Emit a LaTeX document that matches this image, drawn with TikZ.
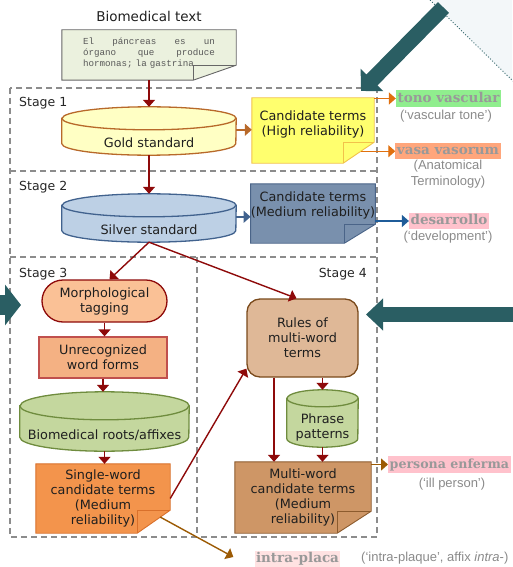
\documentclass[tikz,border=0pt]{standalone}
\usepackage{fontspec}
\setmainfont{DejaVu Sans}
\newfontfamily\glossfont{Liberation Sans}
\newfontfamily\termfont{DejaVu Serif}
\newfontfamily\codefont{Liberation Mono}
\usepackage{tikz}
\usetikzlibrary{arrows.meta, positioning, calc, backgrounds}
\usepackage{xcolor}

\definecolor{trnote}{HTML}{EBF1DE}
\definecolor{trgold}{HTML}{FFFFC4}
\definecolor{trgoldline}{HTML}{B8692A}
\definecolor{tryellow}{HTML}{FFFF6E}
\definecolor{tryellowline}{HTML}{F2C24A}
\definecolor{trsilver}{HTML}{BDD0E5}
\definecolor{trsilverline}{HTML}{41628E}
\definecolor{trslate}{HTML}{7990AD}
\definecolor{trslateline}{HTML}{4A6488}
\definecolor{trpeach}{HTML}{FAC196}
\definecolor{trred}{HTML}{8E0A0A}
\definecolor{trapricot}{HTML}{F4B183}
\definecolor{trapricotline}{HTML}{C0504D}
\definecolor{trgreen}{HTML}{C4D79E}
\definecolor{trgreenline}{HTML}{6F8C3E}
\definecolor{trorange}{HTML}{F3944C}
\definecolor{trorangeline}{HTML}{D9702B}
\definecolor{trtan}{HTML}{DFB897}
\definecolor{trtanline}{HTML}{7A4A1C}
\definecolor{trbrown}{HTML}{CE9666}
\definecolor{trbrownline}{HTML}{8C5B2E}
\definecolor{trarrorange}{HTML}{E0700F}
\definecolor{trarrblue}{HTML}{1F5C99}
\definecolor{trarrbrown}{HTML}{9C5B05}
\definecolor{trteal}{HTML}{2A5E63}
\definecolor{trdash}{HTML}{8C8C8C}
\definecolor{trgloss}{HTML}{8A8A8A}
\definecolor{trterm}{HTML}{999999}
\definecolor{trlime}{HTML}{90EE8E}
\definecolor{trsalmon}{HTML}{FFA67C}
\definecolor{trpink}{HTML}{FFC2CC}
\definecolor{trblush}{HTML}{FFE2E2}
\definecolor{trsky}{HTML}{F3F7F9}

% sheet with folded corner round node #1 (fold #2 wide, #3 high)
\newcommand\dogear[3]{(#1.north west) -- (#1.north east) -- ([yshift=#3]#1.south east)
  -- ([xshift=-#2]#1.south east) -- (#1.south west) -- cycle}
\newcommand\dogfold[3]{([yshift=#3]#1.south east) -- ([xshift=-#2,yshift=#3]#1.south east)
  -- ([xshift=-#2]#1.south east)}
% drum round the front face #1 (radii #2, #3)
\newcommand\cylbody[3]{([yshift=#3]#1.north west) -- ([yshift=#3]#1.south west)
  arc[start angle=180, end angle=360, x radius=#2, y radius=#3]
  -- ([yshift=#3]#1.north east)
  arc[start angle=0, end angle=180, x radius=#2, y radius=#3] -- cycle}
\newcommand\cyllid[3]{([yshift=#3]#1.north west)
  arc[start angle=180, end angle=360, x radius=#2, y radius=#3]}

\begin{document}
\begin{tikzpicture}[x=1pt, y=-1pt,
  txt/.style={font=\fontsize{12.8}{15}\selectfont, text=black!88, align=center, inner sep=1pt},
  sheet/.style={txt, inner sep=0pt},
  face/.style={txt, inner sep=0pt},
  proc/.style={txt, draw, line width=1.3pt},
  dbline/.style={line width=1.3pt},
  sheetline/.style={line width=0.9pt},
  flow/.style={draw=#1, line width=1.4pt, -{Triangle[length=7pt, width=12pt]}},
  flow/.default=trred,
  term/.style={font=\termfont\bfseries\fontsize{13.5}{15}\selectfont, text=trterm, fill=#1,
               inner xsep=1.5pt, inner ysep=1.5pt, text height=10.5pt, text depth=3pt},
  gloss/.style={font=\glossfont\fontsize{13}{16}\selectfont, text=trgloss, align=center, inner sep=1pt},
  stagelbl/.style={font=\fontsize{12.5}{15}\selectfont, text=black!85, inner sep=1pt},
  stageline/.style={draw=trdash, line width=1.3pt, dash pattern=on 6pt off 4pt},
  bigarrow/.style={draw=trteal},
]
  \useasboundingbox (0,0) rectangle (512,567);

  % source text
  \node[txt, font=\fontsize{13.5}{16}\selectfont] (title) at (149,16) {Biomedical text};
  \node[sheet, minimum width=174pt, minimum height=50pt, text width=132pt, align=left,
        font=\codefont\fontsize{9.2}{11}\selectfont, text=black!65, text depth=28pt] (src) at (149,55)
    {El\hfill páncreas\hfill es\hfill un\\órgano\hfill que\hfill produce\\hormonas; la gastrina};

  % stages
  \node[stagelbl, anchor=west] (s1) at (18,103) {Stage 1};
  \node[stagelbl, anchor=west] (s2) at (18,187) {Stage 2};
  \node[stagelbl, anchor=west] (s3) at (18,274) {Stage 3};
  \node[stagelbl, anchor=east] (s4) at (368,274) {Stage 4};

  % stage 1 and 2
  \node[face, minimum width=174pt, minimum height=25pt] (gold) at (149,142.5) {Gold standard};
  \node[face, minimum width=174pt, minimum height=25pt] (silver) at (149,229.5) {Silver standard};
  \node[sheet, minimum width=122pt, minimum height=65pt, text depth=15.5pt] (high) at (313,130.5)
    {Candidate terms\\(High reliability)};
  \node[sheet, minimum width=122pt, minimum height=59pt, text depth=18.7pt] (medium) at (313,213.5)
    {Candidate terms\\(Medium reliability)};

  % stage 3
  \node[proc, fill=trpeach, draw=trred, rounded corners=21pt, minimum width=125pt,
        minimum height=42pt] (morph) at (104.5,301) {Morphological\\tagging};
  \node[proc, fill=trapricot, draw=trapricotline, minimum width=128pt,
        minimum height=41pt] (unrec) at (103,357.5) {Unrecognized\\word forms};
  \node[face, minimum width=169pt, minimum height=31pt] (roots) at (104.5,435.5) {Biomedical roots/affixes};
  \node[sheet, minimum width=134pt, minimum height=69pt] (single) at (103,498.5)
    {Single-word\\candidate terms\\(Medium\\reliability)};

  % stage 4
  \node[proc, fill=trtan, draw=trtanline, rounded corners=13pt, minimum width=111pt,
        minimum height=78pt] (rules) at (302.5,338) {Rules of\\multi-word\\terms};
  \node[face, minimum width=71pt, minimum height=40pt] (phrase) at (322.5,427) {Phrase\\patterns};
  \node[sheet, minimum width=136pt, minimum height=71pt] (multi) at (303,497.5)
    {Multi-word\\candidate terms\\(Medium\\reliability)};

  % extracted terms
  \node[term=trlime] (tono) at (448.5,98.5) {tono vascular};
  \node[gloss] (tonogl) at (446,116) {(‘vascular tone’)};
  \node[term=trsalmon] (vasa) at (448,151) {vasa vasorum};
  \node[gloss] (vasagl) at (448,174) {(Anatomical\\Terminology)};
  \node[term=trpink] (desarr) at (449,221) {desarrollo};
  \node[gloss] (desarrgl) at (448,237) {(‘development’)};
  \node[term=trpink, anchor=west, font=\termfont\bfseries\fontsize{12.6}{15}\selectfont]
    (persona) at (388,464.5) {persona enferma};
  \node[gloss] (personagl) at (452,484) {(‘ill person’)};
  \node[term=trblush] (intra) at (297.5,559) {intra-placa};
  \node[gloss, anchor=west] (intragl) at (360,558) {(‘intra-plaque’, affix \textit{intra}-)};

  \coordinate (goldtop) at ([yshift=23pt]gold.north);
  \coordinate (silvertop) at ([yshift=23pt]silver.north);
  \coordinate (rootstop) at ([yshift=28pt]roots.north);
  \coordinate (phrasetop) at ([yshift=17pt]phrase.north);
  \coordinate (rulesfoot) at ([xshift=-28.5pt]rules.south);
  \coordinate (highfold) at ($([yshift=21pt]high.south east)!0.43!([xshift=-31pt]high.south east)$);
  \coordinate (singlefold) at ($([yshift=23pt]single.south east)!0.3!([xshift=-33pt]single.south east)$);
  \coordinate (intratip) at ([xshift=-21pt,yshift=2pt]intra.west);

  % shapes behind the texts
  \begin{scope}[on background layer]
    \fill[trsky] (430,0) -- (512,0) -- (512,81) -- cycle;
    \draw[stageline] (10,88) rectangle (377,537);
    \draw[stageline] (10,171) -- (377,171) (10,257) -- (377,257) (197,257) -- (197,537);

    \filldraw[sheetline, fill=trnote, draw=black!60] \dogear{src}{43pt}{15pt};
    \draw[sheetline, draw=black!60] \dogfold{src}{43pt}{15pt};
    \filldraw[sheetline, fill=tryellow, draw=tryellowline] \dogear{high}{31pt}{21pt};
    \draw[sheetline, draw=tryellowline] \dogfold{high}{31pt}{21pt};
    \filldraw[sheetline, fill=trslate, draw=trslateline] \dogear{medium}{31pt}{19pt};
    \draw[sheetline, draw=trslateline] \dogfold{medium}{31pt}{19pt};
    \filldraw[sheetline, fill=trorange, draw=trorangeline] \dogear{single}{33pt}{23pt};
    \draw[sheetline, draw=trorangeline] \dogfold{single}{33pt}{23pt};
    \filldraw[sheetline, fill=trbrown, draw=trbrownline] \dogear{multi}{34pt}{22pt};
    \draw[sheetline, draw=trbrownline] \dogfold{multi}{34pt}{22pt};

    \filldraw[dbline, fill=trgold, draw=trgoldline] \cylbody{gold}{87pt}{11.5pt};
    \draw[dbline, draw=trgoldline] \cyllid{gold}{87pt}{11.5pt};
    \filldraw[dbline, fill=trsilver, draw=trsilverline] \cylbody{silver}{87pt}{11.5pt};
    \draw[dbline, draw=trsilverline] \cyllid{silver}{87pt}{11.5pt};
    \filldraw[dbline, fill=trgreen, draw=trgreenline] \cylbody{roots}{84.5pt}{14pt};
    \draw[dbline, draw=trgreenline] \cyllid{roots}{84.5pt}{14pt};
    \filldraw[dbline, fill=trgreen, draw=trgreenline] \cylbody{phrase}{35.5pt}{8.5pt};
    \draw[dbline, draw=trgreenline] \cyllid{phrase}{35.5pt}{8.5pt};
  \end{scope}

  % connectors
  \draw[flow] (src.south) -- (goldtop);
  \draw[flow] (gold.south) -- (silvertop);
  \draw[flow=trgoldline] (gold.north east) -- (gold.north east -| high.west);
  \draw[flow=trsilverline] (silver.north east) -- (silver.north east -| medium.west);
  \draw[flow=trarrorange] (high.east |- tono.west) -- (tono.west);
  \draw[flow=trarrorange] (highfold) -- (highfold -| vasa.west);
  \draw[flow=trarrblue] (medium.east |- desarr.west) -- (desarr.west);
  \draw[flow] (silver.south) -- ([xshift=5pt]morph.north);
  \draw[flow] (silver.south) -- ([xshift=-6pt]rules.north);
  \draw[flow] (morph.south) -- (morph.south |- unrec.north);
  \draw[flow] (unrec.south) -- (unrec.south |- rootstop);
  \draw[flow] (roots.south) -- (roots.south |- single.north);
  \draw[flow] (single.east) -- ([yshift=9pt]rules.south west);
  \draw[flow] (rules.south -| phrasetop) -- (phrasetop);
  \draw[flow] (rulesfoot) -- (rulesfoot |- multi.north);
  \draw[flow] (phrase.south) -- (phrase.south |- multi.north);
  \draw[flow=trarrbrown] (multi.east |- persona.west) -- (persona.west);
  \draw[flow=trarrbrown] (singlefold) -- (intratip);

  % pointers from outside
  \coordinate (dtail) at (443.5,7.5);
  \coordinate (dtip) at (361,91);
  \coordinate (ltail) at (-5,305);
  \coordinate (ltip) at (21,305);
  \coordinate (rtail) at (520,314.5);
  \coordinate (rtip) at (366,314.5);
  \draw[trteal, line width=0.9pt, dotted] (430,0) -- (514,82);
  \draw[bigarrow, line width=15.5pt, -{Triangle[length=15.6pt, width=31pt]}] (dtail) -- (dtip);
  \draw[bigarrow, line width=20pt, -{Triangle[length=16pt, width=40pt]}] (ltail) -- (ltip);
  \draw[bigarrow, line width=15pt, -{Triangle[length=17pt, width=31pt]}] (rtail) -- (rtip);
\end{tikzpicture}
\end{document}
